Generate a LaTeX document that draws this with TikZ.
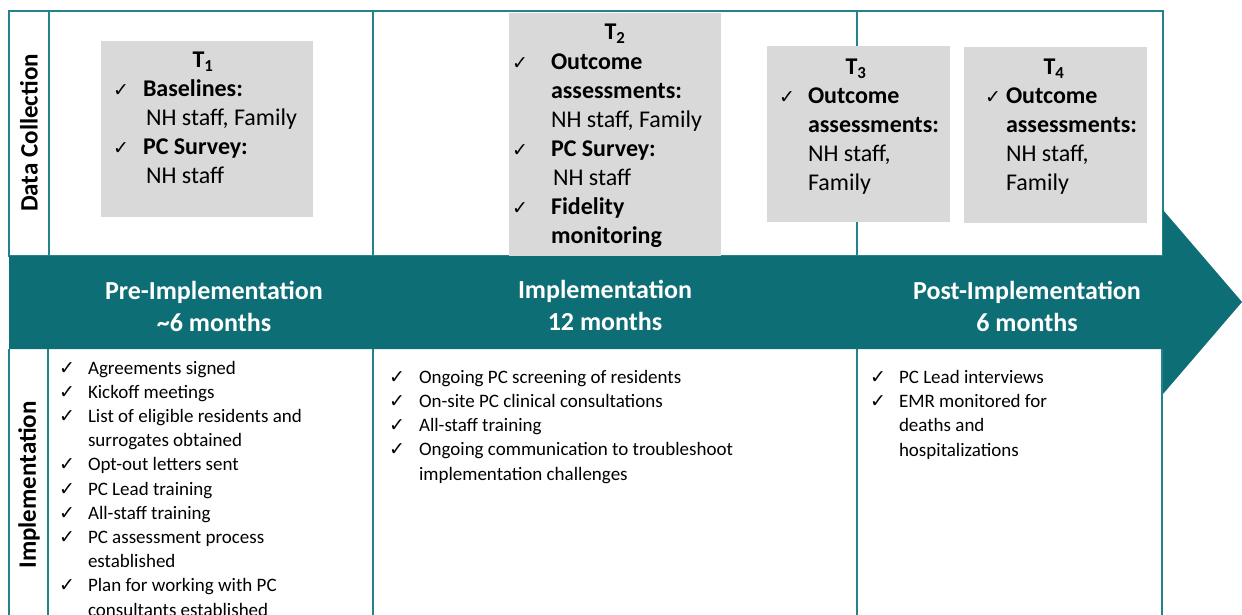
\documentclass[tikz,border=0pt]{standalone}
\usepackage{fontspec}
\setmainfont{Carlito}
\newfontfamily\symfont{DejaVu Sans}

\definecolor{bandteal}{HTML}{0D6E75}
\definecolor{frameteal}{HTML}{23838A}
\definecolor{boxgray}{HTML}{D9D9D9}

% check mark followed by a hanging gap
\newcommand{\tick}[1][29pt]{\makebox[#1][l]{\symfont\fontsize{19}{19}\selectfont ✓}}

\begin{document}
\begin{tikzpicture}[x=1pt, y=-1pt, line width=2pt]

\useasboundingbox (0,0) rectangle (1242,615);

% multi-line texts are placed by the baseline of their last line
\tikzset{
  boxtext/.style={anchor=base west, align=left, inner sep=0pt,
    font=\fontsize{24}{29}\selectfont},
  listtext/.style={anchor=base west, align=left, inner sep=0pt,
    font=\fontsize{19}{24.2}\selectfont},
  bandlabel/.style={align=center, text=white, inner sep=0pt,
    font=\bfseries\fontsize{26}{32}\selectfont},
  sidelabel/.style={rotate=90, inner sep=0pt,
    font=\bfseries\fontsize{25}{30}\selectfont}
}

% frame of the data collection row
\draw[frameteal] (9,11) rectangle (1163,256);
\foreach \x in {49,373,857}
  \draw[frameteal] (\x,11) -- (\x,256);

% frame of the implementation row
\foreach \x in {9,48,373,857,1162}
  \draw[frameteal] (\x,349) -- (\x,617);

% timeline band with its arrow head
\fill[bandteal] (9,256) -- (1163,256) -- (1163,210) -- (1242,302)
  -- (1163,394) -- (1163,349) -- (9,349) -- cycle;

\node[bandlabel] (pre) at (214,306) {Pre-Implementation\\\textasciitilde6 months};
\node[bandlabel] (impl) at (605,305) {Implementation\\12 months};
\node[bandlabel] (post) at (1027,306) {Post-Implementation\\6 months};

% row labels
\node[sidelabel] (dclabel) at (29,133) {Data Collection};
\node[sidelabel] (imlabel) at (29,485) {Implementation};

% time points
\fill[boxgray] (101,41) rectangle (313,217);
\fill[boxgray] (509,13) rectangle (721,256);
\fill[boxgray] (767,46) rectangle (950,222);
\fill[boxgray] (964,47) rectangle (1147,223);

\node[boxtext, anchor=base] (t1) at (203,68) {\textbf{T\textsubscript{1}}};
\node[boxtext] (t1list) at (112,183) {%
  \tick[30pt]\textbf{Baselines:}\\
  \hspace*{33pt}NH staff, Family\\
  \tick[30pt]\textbf{PC Survey:}\\
  \hspace*{33pt}NH staff};

\node[boxtext, anchor=base] (t2) at (615,40) {\textbf{T\textsubscript{2}}};
\node[boxtext] (t2list) at (511,243) {%
  \tick[39pt]\textbf{Outcome}\\
  \hspace*{39pt}\textbf{assessments:}\\
  \hspace*{39pt}NH staff, Family\\
  \tick[39pt]\textbf{PC Survey:}\\
  \hspace*{41pt}NH staff\\
  \tick[39pt]\textbf{Fidelity}\\
  \hspace*{39pt}\textbf{monitoring}};

\node[boxtext, anchor=base] (t3) at (856,75) {\textbf{T\textsubscript{3}}};
\node[boxtext] (t3list) at (778,190) {%
  \tick\textbf{Outcome}\\
  \hspace*{29pt}\textbf{assessments:}\\
  \hspace*{29pt}NH staff,\\
  \hspace*{29pt}Family};

\node[boxtext, anchor=base] (t4) at (1054,75) {\textbf{T\textsubscript{4}}};
\node[boxtext] (t4list) at (984,190) {%
  \tick[21pt]\textbf{Outcome}\\
  \hspace*{21pt}\textbf{assessments:}\\
  \hspace*{21pt}NH staff,\\
  \hspace*{21pt}Family};

% implementation steps per phase
\node[listtext] (prelist) at (58,616) {%
  \tick Agreements signed\\
  \tick Kickoff meetings\\
  \tick List of eligible residents and\\
  \hspace*{29pt}surrogates obtained\\
  \tick Opt-out letters sent\\
  \tick PC Lead training\\
  \tick All-staff training\\
  \tick PC assessment process\\
  \hspace*{29pt}established\\
  \tick Plan for working with PC\\
  \hspace*{29pt}consultants established};

\node[listtext] (impllist) at (388,480) {%
  \tick[30pt]Ongoing PC screening of residents\\
  \tick[30pt]On-site PC clinical consultations\\
  \tick[30pt]All-staff training\\
  \tick[30pt]Ongoing communication to troubleshoot\\
  \hspace*{30pt}implementation challenges};

\node[listtext] (postlist) at (869,456) {%
  \tick PC Lead interviews\\
  \tick EMR monitored for\\
  \hspace*{29pt}deaths and\\
  \hspace*{29pt}hospitalizations};

\end{tikzpicture}
\end{document}
